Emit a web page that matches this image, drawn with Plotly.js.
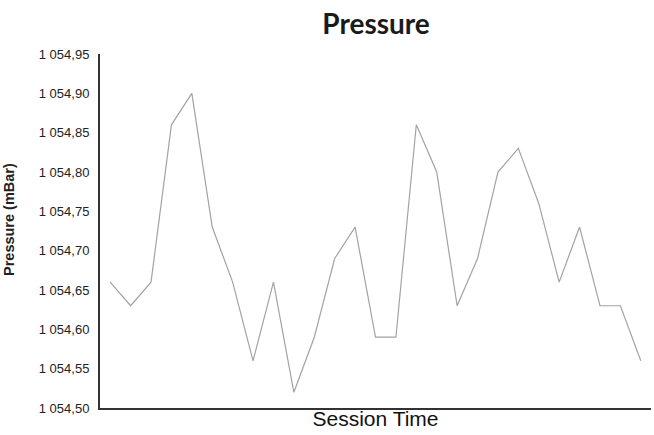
<!DOCTYPE html>
<html>
<head>
<meta charset="utf-8">
<script src="https://cdn.plot.ly/plotly-3.0.1.min.js"></script>
<style>html,body{margin:0;padding:0;background:#fff;}#chart{width:654px;height:435px;}</style>
</head>
<body>
<div id="chart"></div>
<script>
// Session index (no tick labels shown on the x axis)
const sessionIndex = [0,1,2,3,4,5,6,7,8,9,10,11,12,13,14,15,16,17,18,19,20,21,22,23,24,25,26];
// Pressure readings in mBar
const pressure = [
  1054.66, 1054.63, 1054.66, 1054.86, 1054.90, 1054.73, 1054.66, 1054.56, 1054.66,
  1054.52, 1054.59, 1054.69, 1054.73, 1054.59, 1054.59, 1054.86, 1054.80, 1054.63,
  1054.69, 1054.80, 1054.83, 1054.76, 1054.66, 1054.73, 1054.63, 1054.63, 1054.56
];
const yTicks = [1054.50,1054.55,1054.60,1054.65,1054.70,1054.75,1054.80,1054.85,1054.90,1054.95];

const trace = {
  x: sessionIndex,
  y: pressure,
  type: 'scatter',
  mode: 'lines',
  line: {color: '#a3a3a3', width: 1.2},
  hoverinfo: 'skip'
};

const layout = {
  width: 654, height: 435,
  margin: {l: 100, r: 3, t: 54, b: 27, pad: 0},
  paper_bgcolor: '#fff', plot_bgcolor: '#fff',
  separators: ', ',
  showlegend: false,
  title: {
    text: '<b>Pressure</b>',
    font: {family: 'Lato, "Open Sans", sans-serif', size: 28, color: '#1a1a1a'},
    x: 0.575, xanchor: 'center', y: 0.945, yanchor: 'middle'
  },
  xaxis: {
    range: [-0.5, 26.5],
    showticklabels: false, ticks: '', showgrid: false, zeroline: false,
    showline: true, linecolor: '#333', linewidth: 2,
    title: {text: 'Session Time', standoff: 2,
      font: {family: '"Liberation Sans", Arial, sans-serif', size: 21, color: '#111'}}
  },
  yaxis: {
    range: [1054.50, 1054.95],
    tickvals: yTicks,
    tickformat: ',.2f',
    ticks: 'outside', ticklen: 6, tickcolor: 'rgba(0,0,0,0)',
    tickfont: {family: '"Liberation Sans", Arial, sans-serif', size: 13, color: '#222'},
    showgrid: false, zeroline: false,
    showline: true, linecolor: '#333', linewidth: 2
  },
  annotations: [{
    text: '<b>Pressure (mBar)</b>',
    textangle: -90,
    xref: 'paper', yref: 'paper',
    x: (9 - 100) / 551, y: (408 - 220) / 354,
    xanchor: 'center', yanchor: 'middle',
    showarrow: false,
    font: {family: '"Liberation Sans", Arial, sans-serif', size: 14.5, color: '#222'}
  }]
};

Plotly.newPlot('chart', [trace], layout, {staticPlot: true, displayModeBar: false});
</script>
</body>
</html>
